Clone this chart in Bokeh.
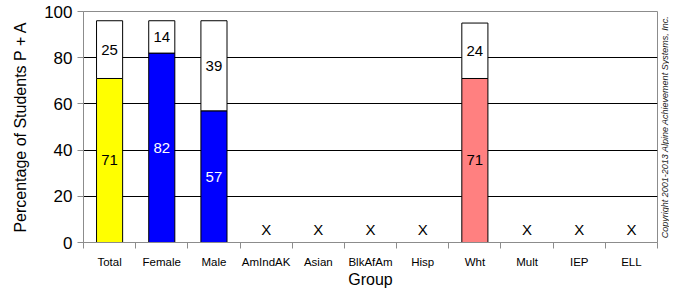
import numpy as np
from bokeh.plotting import figure
from bokeh.layouts import row
from bokeh.models import ColumnDataSource, Range1d, FixedTicker
from bokeh.core.properties import value
from bokeh.embed import file_html
from bokeh.resources import INLINE

groups = ["Total", "Female", "Male", "AmIndAK", "Asian", "BlkAfAm", "Hisp",
          "Wht", "Mult", "IEP", "ELL"]
pct_pa = [71, 82, 57, None, None, None, None, 71, None, None, None]
pct_rest = [25, 14, 39, None, None, None, None, 24, None, None, None]
bar_colors = ["#FFFF00", "#0000FF", "#0000FF", None, None, None, None,
              "#FF8080", None, None, None]
label_colors = ["black", "white", "white", None, None, None, None,
                "black", None, None, None]
copyright_text = "Copyright 2001-2013 Alpine Achievement Systems, Inc."

FONT = "Liberation Sans"
TOP, BOTTOM = 11, 50

xs, pa, rest, cols, lcols = [], [], [], [], []
missing_x = []
for i, g in enumerate(groups):
    if pct_pa[i] is None:
        missing_x.append(i + 0.5)
        continue
    xs.append(i + 0.5)
    pa.append(pct_pa[i])
    rest.append(pct_rest[i])
    cols.append(bar_colors[i])
    lcols.append(label_colors[i])

pa = np.array(pa, dtype=float)
rest = np.array(rest, dtype=float)
src = ColumnDataSource(dict(
    x=xs, pa=pa, top=pa + rest, mid1=pa / 2, mid2=pa + rest / 2,
    t1=[str(int(v)) for v in pa], t2=[str(int(v)) for v in rest],
    color=cols, lcolor=lcols,
))

yr = Range1d(0, 100)
p = figure(width=660, height=292, output_backend="svg", toolbar_location=None,
           x_range=Range1d(0, len(groups)), y_range=yr,
           min_border_left=83, min_border_right=3, min_border_top=TOP,
           min_border_bottom=BOTTOM)
p.outline_line_color = "#8c8c8c"
p.outline_line_width = 1

p.vbar(x="x", bottom=0, top="pa", width=0.5, fill_color="color",
       line_color="black", line_width=1, source=src)
p.vbar(x="x", bottom="pa", top="top", width=0.5, fill_color="white",
       line_color="black", line_width=1, source=src)

p.text(x="x", y="mid1", text="t1", text_color="lcolor", text_align="center",
       text_baseline="middle", text_font=value(FONT), text_font_size="15px",
       source=src)
p.text(x="x", y="mid2", text="t2", text_color="black", text_align="center",
       text_baseline="middle", text_font=value(FONT), text_font_size="15px",
       source=src)
p.text(x=missing_x, y=[2] * len(missing_x), text=["X"] * len(missing_x),
       text_color="black", text_align="center", text_baseline="bottom",
       text_font=value(FONT), text_font_size="15px")

# grid
p.xgrid.visible = False
p.ygrid.ticker = FixedTicker(ticks=[20, 40, 60, 80])
p.ygrid.grid_line_color = "black"
p.ygrid.grid_line_width = 1

# y axis
ya = p.yaxis[0]
ya.ticker = FixedTicker(ticks=[0, 20, 40, 60, 80, 100])
ya.axis_line_color = "#8c8c8c"
ya.major_tick_line_color = "#8c8c8c"
ya.major_tick_out = 6
ya.major_tick_in = 0
ya.minor_tick_line_color = None
ya.major_label_text_font = FONT
ya.major_label_text_font_size = "17px"
ya.major_label_text_color = "black"
ya.major_label_standoff = 5
ya.axis_label = "Percentage of Students P + A"
ya.axis_label_text_font = FONT
ya.axis_label_text_font_size = "16px"
ya.axis_label_text_font_style = "normal"
ya.axis_label_text_color = "black"
ya.axis_label_standoff = 12

# x axis
xa = p.xaxis[0]
xa.ticker = FixedTicker(ticks=[i + 0.5 for i in range(len(groups))],
                        minor_ticks=list(range(len(groups) + 1)))
xa.major_label_overrides = {i + 0.5: g for i, g in enumerate(groups)}
xa.axis_line_color = "#8c8c8c"
xa.major_tick_line_color = None
xa.major_tick_out = 0
xa.major_tick_in = 0
xa.minor_tick_line_color = "#8c8c8c"
xa.minor_tick_out = 6
xa.minor_tick_in = 0
xa.major_label_text_font = FONT
xa.major_label_text_font_size = "11.5px"
xa.major_label_text_color = "black"
xa.major_label_standoff = 7
xa.axis_label = "Group"
xa.axis_label_text_font = FONT
xa.axis_label_text_font_size = "16px"
xa.axis_label_text_font_style = "normal"
xa.axis_label_text_color = "black"
xa.axis_label_standoff = 0

# narrow side panel holding the vertical copyright note
p2 = figure(width=9, height=292, output_backend="svg", toolbar_location=None,
            x_range=Range1d(0, 1), y_range=yr,
            min_border_left=0, min_border_right=0, min_border_top=TOP,
            min_border_bottom=BOTTOM)
p2.axis.visible = False
p2.grid.visible = False
p2.outline_line_color = None
p2.text(x=[0.5], y=[50], text=[copyright_text], angle=np.pi / 2,
        text_align="center", text_baseline="middle", text_color="#222222",
        text_font=value(FONT), text_font_size="9px", text_font_style="italic")

layout = row(p, p2)
open("out.html", "w").write(file_html(layout, INLINE))
